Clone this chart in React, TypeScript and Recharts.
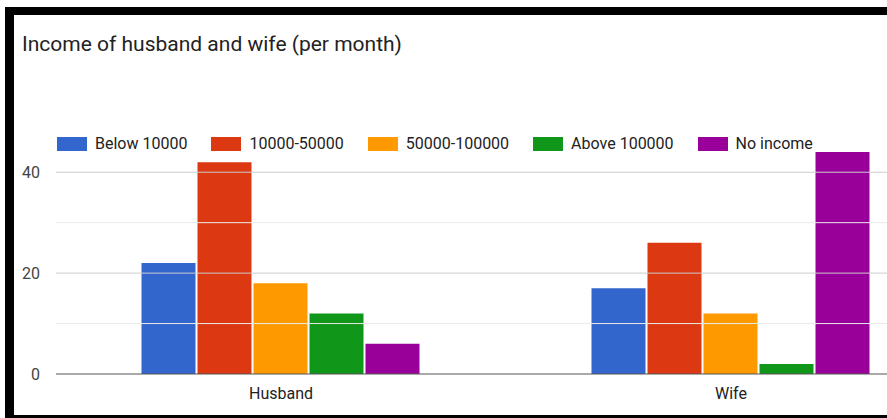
import { BarChart, Bar, XAxis, YAxis, ReferenceLine } from "recharts";

const categories = ["Husband", "Wife"];
const seriesNames = ["Below 10000", "10000-50000", "50000-100000", "Above 100000", "No income"];
const below10000 = [22, 17];
const from10000to50000 = [42, 26];
const from50000to100000 = [18, 12];
const above100000 = [12, 2];
const noIncome = [6, 44];
const yTicks = [0, 10, 20, 30, 40];
const yLabelled = [0, 20, 40];

const colors = ["#3366cc", "#dc3912", "#ff9900", "#109618", "#990099"];
const seriesValues = [below10000, from10000to50000, from50000to100000, above100000, noIncome];

const data = categories.map((name, i) => {
  const row: Record<string, string | number> = { name };
  seriesNames.forEach((s, j) => {
    row[s] = seriesValues[j][i];
  });
  return row;
});

const font = "Roboto, Arial, sans-serif";

export default function App() {
  return (
    <div
      style={{
        position: "fixed",
        left: 0,
        top: 0,
        width: 887,
        height: 418,
        overflow: "hidden",
        background: "#fff",
        fontFamily: font,
      }}
    >
      <div
        style={{
          position: "absolute",
          left: 22,
          top: 32,
          fontSize: 21,
          lineHeight: "25px",
          color: "#222",
          whiteSpace: "nowrap",
        }}
      >
        Income of husband and wife (per month)
      </div>

      <div
        style={{
          position: "absolute",
          left: 57,
          top: 137,
          display: "flex",
          alignItems: "center",
          fontSize: 16,
          color: "#222",
          whiteSpace: "nowrap",
        }}
      >
        {seriesNames.map((s, i) => (
          <div key={s} style={{ display: "flex", alignItems: "center", marginRight: 24 }}>
            <div style={{ width: 30, height: 14, background: colors[i], marginRight: 8 }} />
            <span style={{ lineHeight: "14px" }}>{s}</span>
          </div>
        ))}
      </div>

      <div style={{ position: "absolute", left: 0, top: 0 }}>
        <BarChart
          width={1000}
          height={418}
          data={data}
          margin={{ top: 147, right: 44, left: 0, bottom: 14 }}
          barCategoryGap="19%"
          barGap={2}
        >
          {yTicks
            .filter((v) => v !== 0)
            .map((v) => (
              <ReferenceLine
                key={v}
                y={v}
                stroke={yLabelled.includes(v) ? "#cccccc" : "#ebebeb"}
              />
            ))}
          <XAxis
            dataKey="name"
            height={30}
            tickLine={false}
            axisLine={{ stroke: "#555" }}
            tickMargin={8}
            tick={{ fill: "#222", fontSize: 16, fontFamily: font }}
          />
          <YAxis
            width={56}
            domain={[0, 45]}
            ticks={yTicks}
            interval={0}
            axisLine={false}
            tickLine={false}
            tickMargin={10}
            tickFormatter={(v: number) => (yLabelled.includes(v) ? String(v) : "")}
            tick={{ fill: "#444", fontSize: 16, fontFamily: font }}
          />
          {seriesNames.map((s, i) => (
            <Bar key={s} dataKey={s} fill={colors[i]} isAnimationActive={false} />
          ))}
        </BarChart>
      </div>

      <div
        style={{
          position: "absolute",
          left: 5,
          top: 7,
          width: 1000,
          height: 411,
          boxSizing: "border-box",
          borderLeft: "9px solid #000",
          borderTop: "8px solid #000",
          borderBottom: "3px solid #000",
          pointerEvents: "none",
        }}
      />
    </div>
  );
}
